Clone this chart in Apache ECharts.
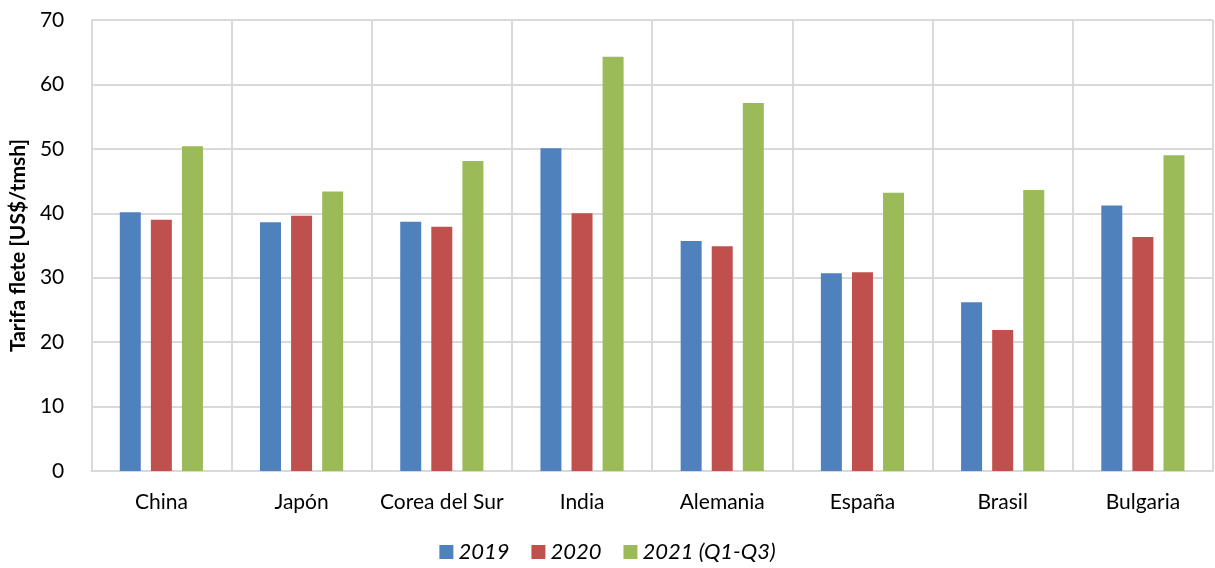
<!DOCTYPE html>
<html><head><meta charset="utf-8">
<script src="https://cdn.jsdelivr.net/npm/echarts@6/dist/echarts.min.js"></script>
<style>html,body{margin:0;padding:0;background:#fff}#c{width:1215px;height:568px}</style>
</head><body><div id="c"></div>
<script>
const categories = ['China','Japón','Corea del Sur','India','Alemania','España','Brasil','Bulgaria'];
const s2019 = [40.15, 38.6, 38.7, 50.1, 35.7, 30.7, 26.2, 41.2];
const s2020 = [39.0, 39.6, 37.9, 40.0, 34.9, 30.85, 21.9, 36.3];
const s2021 = [50.4, 43.4, 48.1, 64.3, 57.1, 43.2, 43.6, 49.0];
const seriesNames = ['2019','2020','2021 (Q1-Q3)'];
const yTicks = {min:0, max:70, interval:10};

const font = "Lato, 'Open Sans', sans-serif";
const chart = echarts.init(document.getElementById('c'));
const colors = ['#4F81BD','#C0504D','#9BBB59'];
chart.setOption({
  animation:false,
  textStyle:{fontFamily:font},
  grid:{left:90, right:2, top:20, bottom:97, containLabel:false},
  legend:{
    bottom:0, left:'center', itemWidth:14, itemHeight:14, itemGap:22, itemTextGap:6,
    icon:'rect',
    textStyle:{fontSize:22, fontStyle:'italic', color:'#000', fontFamily:font},
    data:seriesNames
  },
  xAxis:{
    type:'category', data:categories,
    axisLine:{lineStyle:{color:'#D9D9D9', width:2}},
    axisTick:{show:false},
    axisLabel:{fontSize:21, color:'#000', margin:21, interval:0, fontFamily:font},
    splitLine:{show:true, interval:0, lineStyle:{color:'#D9D9D9', width:2}}
  },
  yAxis:{
    type:'value', min:yTicks.min, max:yTicks.max, interval:yTicks.interval,
    name:'Tarifa flete [US$/tmsh]', nameLocation:'middle', nameGap:62,
    nameTextStyle:{fontSize:21, fontWeight:'bold', color:'#000', fontFamily:font},
    axisLine:{show:false}, axisTick:{show:false},
    axisLabel:{fontSize:21, color:'#000', margin:27, fontFamily:font},
    splitLine:{lineStyle:{color:'#D9D9D9', width:2}}
  },
  series:[
    {name:seriesNames[0], type:'bar', data:s2019, barWidth:21, barGap:'48%', itemStyle:{color:colors[0]}},
    {name:seriesNames[1], type:'bar', data:s2020, barWidth:21, barGap:'48%', itemStyle:{color:colors[1]}},
    {name:seriesNames[2], type:'bar', data:s2021, barWidth:21, barGap:'48%', itemStyle:{color:colors[2]}}
  ]
});
</script></body></html>
